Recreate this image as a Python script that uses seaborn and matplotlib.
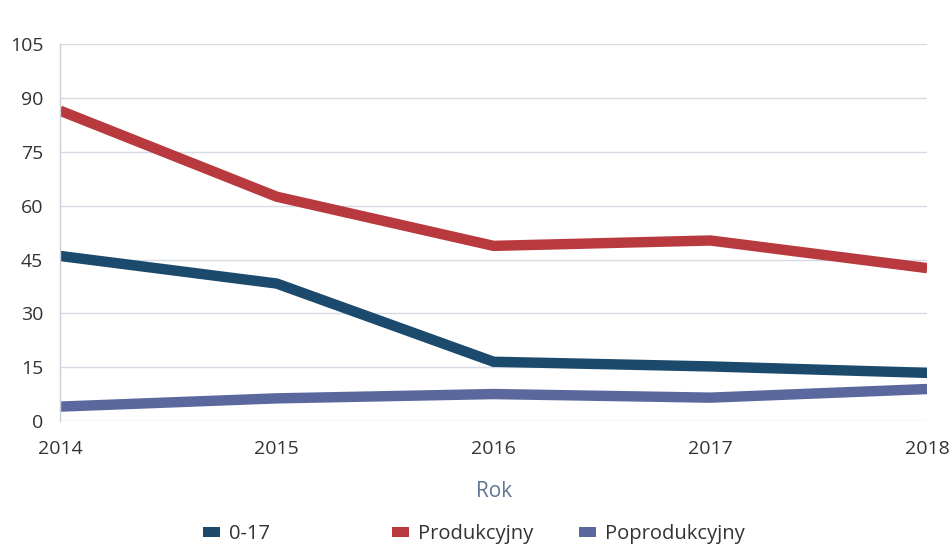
import matplotlib
matplotlib.use("Agg")
import matplotlib.pyplot as plt
import seaborn as sns
import pandas as pd
from matplotlib.patches import Patch

years = [2014, 2015, 2016, 2017, 2018]
series_names = ["0-17", "Produkcyjny", "Poprodukcyjny"]
vals_0_17 = [46.0, 38.3, 16.5, 15.2, 13.4]
vals_prod = [86.5, 62.5, 48.8, 50.3, 42.6]
vals_poprod = [4.0, 6.3, 7.5, 6.5, 8.9]
colors = ["#1c4a6c", "#b83a3f", "#5a689e"]
y_ticks = [0, 15, 30, 45, 60, 75, 90, 105]

sns.set_theme(style="white")
plt.rcParams["font.family"] = ["Open Sans", "DejaVu Sans"]

df = pd.DataFrame({
    "Rok": years * 3,
    "value": vals_0_17 + vals_prod + vals_poprod,
    "series": [series_names[0]] * 5 + [series_names[1]] * 5 + [series_names[2]] * 5,
})

fig = plt.figure(figsize=(9.51, 5.46), dpi=100)
ax = fig.add_axes([0.063, 0.229, 0.912, 0.690])

sns.lineplot(data=df, x="Rok", y="value", hue="series", hue_order=series_names,
             palette=colors, linewidth=7.5, ax=ax, legend=False,
             solid_joinstyle="miter", solid_capstyle="butt")

ax.set_xlim(2014, 2018)
ax.set_ylim(0, 105)
ax.set_yticks(y_ticks)
ax.set_xticks(years)
ax.set_xticklabels([str(y) for y in years])
ax.grid(axis="y", color="#d5dae3", linewidth=1.0)
ax.grid(axis="x", visible=False)
for s in ["top", "right", "bottom"]:
    ax.spines[s].set_visible(False)
ax.spines["left"].set_color("#c8ced8")
ax.spines["left"].set_linewidth(1.0)
ax.tick_params(axis="both", length=0, labelsize=14, colors="#333333")
ax.tick_params(axis="y", pad=12)
ax.tick_params(axis="x", pad=14)
ax.set_ylabel("")
ax.set_xlabel("Rok", fontsize=15, color="#5f7593", labelpad=16)

legend_x = [203, 392, 579]
for name, c, lx in zip(series_names, colors, legend_x):
    fig.legend([Patch(facecolor=c, edgecolor="none")], [name], loc="center left",
               bbox_to_anchor=(lx / 951, 1 - 534 / 546), frameon=False, fontsize=14.5,
               handlelength=0.84, handleheight=0.4, handletextpad=0.45,
               borderpad=0, borderaxespad=0, labelcolor="#333333")

fig.savefig("out.png", dpi=100)
